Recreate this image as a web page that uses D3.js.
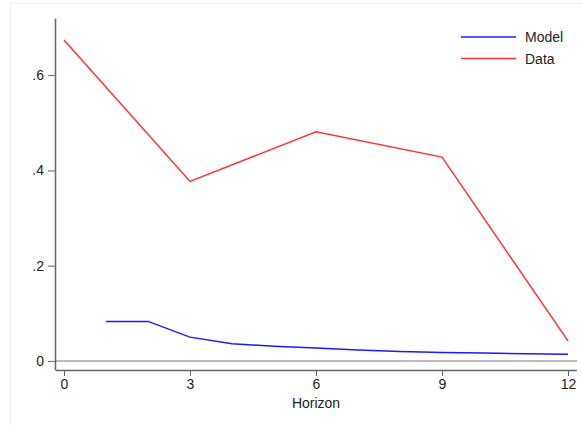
<!DOCTYPE html>
<html><head><meta charset="utf-8">
<script src="https://cdn.jsdelivr.net/npm/d3@7"></script>
<style>body{margin:0;background:#fff}svg{display:block}text{font-family:"Liberation Sans",Arial,sans-serif;fill:#222}</style>
</head><body><svg id="c" width="582" height="425"></svg>
<script>
const modelX = [1,2,3,4,5,6,7,8,9,10,11,12];
const modelY = [0.083,0.083,0.050,0.036,0.031,0.027,0.023,0.020,0.018,0.0165,0.015,0.014];
const dataX = [0,3,6,9,12];
const dataY = [0.674,0.377,0.481,0.428,0.042];
const xTicks = [0,3,6,9,12];
const yTicks = [0,0.2,0.4,0.6];
const yTickLabels = ["0",".2",".4",".6"];
const legendLabels = ["Model","Data"];
const colors = ["#1a1aff","#ff3333"];

const svg = d3.select("#c");
svg.append("rect").attr("x",10.5).attr("y",3.5).attr("width",580).attr("height",430).attr("fill","none").attr("stroke","#f0f0f0");

const x = d3.scaleLinear().domain([-0.2,12.2]).range([55.6,576.4]);
const y = d3.scaleLinear().domain([-0.019,0.72]).range([370,18]);

// yline at 0
svg.append("line").attr("x1",55).attr("x2",577).attr("y1",y(0)).attr("y2",y(0)).attr("stroke","#bbb").attr("stroke-width",2);

const yAxis = svg.append("g").attr("transform","translate(55,0)")
  .call(d3.axisLeft(y).tickValues(yTicks).tickFormat((d,i)=>yTickLabels[i]).tickSize(7).tickSizeOuter(0).tickPadding(4));
const xAxis = svg.append("g").attr("transform","translate(0,370)")
  .call(d3.axisBottom(x).tickValues(xTicks).tickSize(6).tickSizeOuter(0).tickPadding(3));
[yAxis,xAxis].forEach(g=>{
  g.select(".domain").attr("stroke","#666").attr("stroke-width",1.5);
  g.selectAll(".tick line").attr("stroke","#666");
  g.selectAll(".tick text").attr("font-size",14).attr("fill","#222").style("font-family","'Liberation Sans',Arial,sans-serif");
});
svg.append("text").attr("x",x(6)).attr("y",408).attr("text-anchor","middle").attr("font-size",14).text("Horizon");

const line = d3.line().x(d=>x(d[0])).y(d=>y(d[1]));
svg.append("path").datum(modelX.map((v,i)=>[v,modelY[i]])).attr("d",line).attr("fill","none").attr("stroke",colors[0]).attr("stroke-width",1.5);
svg.append("path").datum(dataX.map((v,i)=>[v,dataY[i]])).attr("d",line).attr("fill","none").attr("stroke",colors[1]).attr("stroke-width",1.5);

legendLabels.forEach((l,i)=>{
  const yy = 37 + i*21.5;
  svg.append("line").attr("x1",461).attr("x2",516).attr("y1",yy).attr("y2",yy).attr("stroke",colors[i]).attr("stroke-width",1.5);
  svg.append("text").attr("x",525).attr("y",yy+5).attr("font-size",14).text(l);
});
</script></body></html>
